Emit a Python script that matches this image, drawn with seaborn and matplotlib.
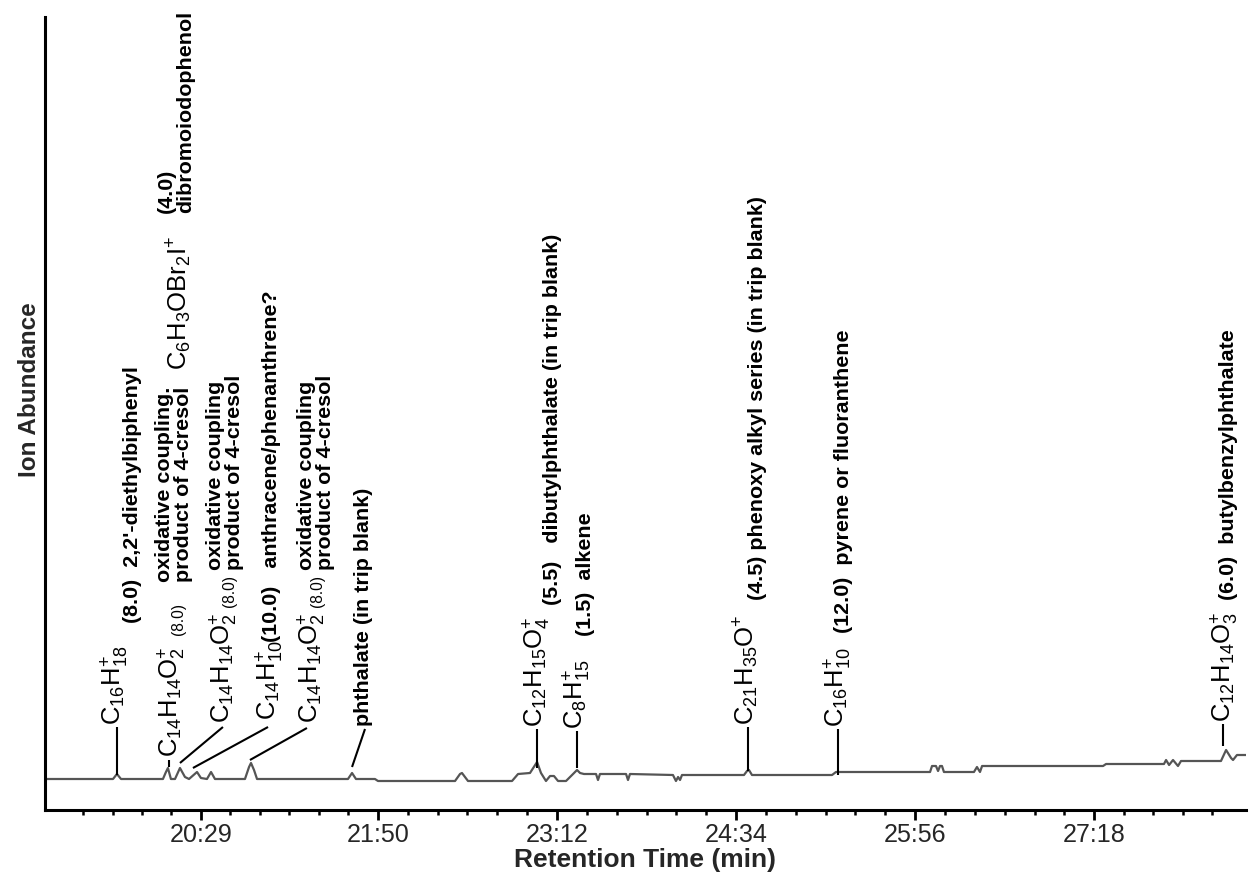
import numpy as np
import pandas as pd
import matplotlib
matplotlib.use("Agg")
import matplotlib.pyplot as plt
import seaborn as sns
from matplotlib import font_manager

sns.set_style("white")

# use a narrow face when the system has one
names = {f.name for f in font_manager.fontManager.ttflist}
NARROW = "Liberation Sans Narrow" in names
FAMILY = ["Liberation Sans Narrow", "Liberation Sans", "DejaVu Sans"] if NARROW else ["Liberation Sans", "DejaVu Sans"]
plt.rcParams['font.family'] = FAMILY
k = 1.0 if NARROW else 0.86
WIDE = ["Liberation Sans", "DejaVu Sans"]

# chromatogram trace (retention time in min, ion abundance in arbitrary units)
rt_min = [19.293, 19.812, 19.842, 19.873, 20.193, 20.216, 20.231, 20.254, 20.285, 20.323,
          20.361, 20.392, 20.453, 20.483, 20.529, 20.560, 20.590, 20.819, 20.850, 20.865,
          20.888, 20.911, 21.605, 21.636, 21.666, 21.811, 21.834, 22.422, 22.460, 22.475,
          22.498, 22.521, 22.857, 22.903, 22.994, 23.048, 23.078, 23.116, 23.147, 23.177,
          23.208, 23.269, 23.315, 23.353, 23.376, 23.406, 23.498, 23.513, 23.528, 23.727,
          23.742, 23.757, 24.085, 24.108, 24.124, 24.139, 24.154, 24.627, 24.650, 24.665,
          24.688, 25.299, 25.329, 26.047, 26.062, 26.092, 26.108, 26.123, 26.138, 26.153,
          26.382, 26.405, 26.428, 26.444, 27.367, 27.390, 27.832, 27.848, 27.871, 27.901,
          27.939, 27.962, 28.267, 28.306, 28.344, 28.359, 28.389, 28.458]
abundance = [31, 31, 36, 31, 31, 38, 42, 31, 31, 42,
             33, 31, 38, 32, 31, 38, 31, 31, 43, 47,
             40, 31, 31, 37, 31, 31, 29, 29, 36, 37,
             33, 29, 29, 36, 37, 48, 37, 29, 34, 34,
             29, 29, 35, 40, 37, 36, 36, 30, 36, 36,
             30, 36, 35, 29, 33, 30, 35, 35, 39, 40,
             35, 35, 38, 38, 44, 44, 39, 44, 44, 38,
             38, 43, 38, 44, 44, 46, 46, 50, 45, 50,
             44, 49, 49, 60, 52, 50, 55, 55]

tick_pos = [20.4833, 21.8333, 23.2, 24.5667, 25.9333, 27.3]
tick_labels = ["20:29", "21:50", "23:12", "24:34", "25:56", "27:18"]

# peak labels
formulas = [r"$\mathregular{C_{16}H_{18}^{+}}$", r"$\mathregular{C_{14}H_{14}O_{2}^{+}}$",
            r"$\mathregular{C_{14}H_{14}O_{2}^{+}}$", r"$\mathregular{C_{14}H_{10}^{+}}$",
            r"$\mathregular{C_{14}H_{14}O_{2}^{+}}$", r"$\mathregular{C_{12}H_{15}O_{4}^{+}}$",
            r"$\mathregular{C_{8}H_{15}^{+}}$", r"$\mathregular{C_{21}H_{35}O^{+}}$",
            r"$\mathregular{C_{16}H_{10}^{+}}$", r"$\mathregular{C_{12}H_{14}O_{3}^{+}}$",
            r"$\mathregular{C_{6}H_{3}OBr_{2}I^{+}}$"]
formula_rt = [19.827, 20.262, 20.659, 21.010, 21.331, 23.048, 23.353, 24.642, 25.345, 28.298, 20.316]
formula_y = [85, 53, 87, 90, 87, 83, 81, 85, 83, 88, 440]

tags = ["(8.0)", "(8.0)", "(8.0)"]
tag_rt = [20.308, 20.704, 21.376]
tag_y = [175, 203, 203]

descriptions = ["(8.0)  2,2'-diethylbiphenyl",
                "oxidative coupling.\nproduct of 4-cresol",
                "oxidative coupling\nproduct of 4-cresol",
                "(10.0)   anthracene/phenanthrene?",
                "oxidative coupling\nproduct of 4-cresol",
                "phthalate (in trip blank)",
                "(5.5)   dibutylphthalate (in trip blank)",
                "(1.5)  alkene",
                "(4.5) phenoxy alkyl series (in trip blank)",
                "(12.0)  pyrene or fluoranthene",
                "(6.0)  butylbenzylphthalate",
                "(4.0)\ndibromoiodophenol"]
desc_rt = [19.957, 20.277, 20.666, 21.025, 21.361, 21.727, 23.162, 23.414, 24.734, 25.383, 28.328, 20.293]
desc_y = [187, 228, 240, 168, 240, 84, 205, 174, 210, 177, 210, 597]

# leader lines: peak end -> label end
lead_rt0 = [19.842, 20.239, 20.323, 20.422, 20.857, 21.636, 23.048, 23.353, 24.658, 25.345, 28.283]
lead_y0 = [35, 43, 47, 42, 50, 43, 42, 42, 39, 35, 64]
lead_rt1 = [19.842, 20.239, 20.651, 20.995, 21.292, 21.735, 23.048, 23.353, 24.658, 25.345, 28.283]
lead_y1 = [83, 50, 83, 83, 82, 81, 81, 79, 83, 81, 86]

fig = plt.figure(figsize=(12.54, 8.86), dpi=100)
ax = fig.add_axes([45 / 1254, 76 / 886, 1201 / 1254, 793 / 886])

df = pd.DataFrame({"rt": rt_min, "abundance": abundance})
sns.lineplot(data=df, x="rt", y="abundance", ax=ax, color="#555555", lw=1.6,
             sort=False, estimator=None)

for x0, y0, x1, y1 in zip(lead_rt0, lead_y0, lead_rt1, lead_y1):
    ax.plot([x0, x1], [y0, y1], color="black", lw=1.5, solid_capstyle="butt")

for s, x, y in zip(formulas, formula_rt, formula_y):
    ax.text(x, y, s, rotation=90, ha="center", va="bottom", fontsize=21.5 * k, color="black")

for s, x, y in zip(tags, tag_rt, tag_y):
    ax.text(x, y, s, rotation=90, ha="center", va="bottom", fontsize=13 * k, color="black")

for s, x, y in zip(descriptions, desc_rt, desc_y):
    ax.text(x, y, s, rotation=90, ha="center", va="bottom", fontsize=18 * k,
            fontweight="bold", multialignment="left", linespacing=1.0, color="black")

ax.set_xlim(19.293, 28.458)
ax.set_ylim(0, 793)

# ticks
minor = []
for a, b in zip(tick_pos[:-1], tick_pos[1:]):
    minor += list(np.linspace(a, b, 7)[1:-1])
step = (tick_pos[1] - tick_pos[0]) / 6
minor += [tick_pos[0] - step * i for i in range(1, 5)]
minor += [tick_pos[-1] + step * i for i in range(1, 5)]
ax.set_xticks(tick_pos)
ax.set_xticklabels(tick_labels)
ax.set_xticks(minor, minor=True)
ax.set_yticks([])
ax.tick_params(axis="x", which="major", direction="out", length=7, width=2,
               labelsize=21 * k, pad=2, bottom=True, color="black")
ax.tick_params(axis="x", which="minor", direction="out", length=3.5, width=1.8,
               bottom=True, color="black")

sns.despine(ax=ax, top=True, right=True)
for side in ["left", "bottom"]:
    ax.spines[side].set_linewidth(2.2)
    ax.spines[side].set_color("black")

ax.set_xlabel("Retention Time (min)", fontsize=19, fontweight="bold", family=WIDE)
ax.set_ylabel("Ion Abundance", fontsize=17.5, fontweight="bold", family=WIDE)
ax.xaxis.set_label_coords(0.5, -0.048)
ax.yaxis.set_label_coords(-0.003, 0.53)

fig.savefig("out.png", dpi=100)
